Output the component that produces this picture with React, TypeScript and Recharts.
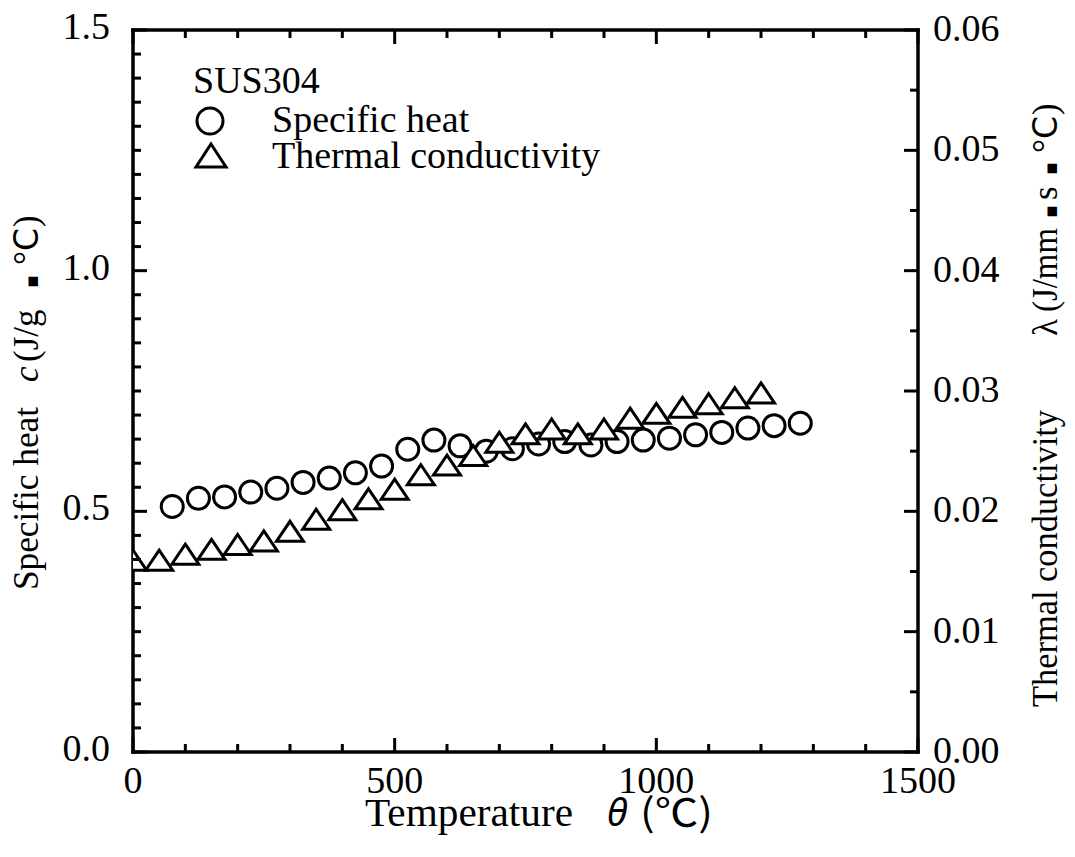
import React from 'react';
import { ScatterChart, Scatter, XAxis, YAxis, Label } from 'recharts';

// ---- data ----
const heatTemps = [75, 125, 175, 225, 275, 325, 375, 425, 475, 525, 575, 625, 675, 725, 775, 825, 875, 925, 975, 1025, 1075, 1125, 1175, 1225, 1275];
const specificHeat = [0.510, 0.527, 0.530, 0.540, 0.548, 0.560, 0.569, 0.580, 0.594, 0.629, 0.648, 0.636, 0.625, 0.630, 0.640, 0.645, 0.638, 0.645, 0.648, 0.652, 0.659, 0.664, 0.673, 0.678, 0.683];
const condTemps = [0, 50, 100, 150, 200, 250, 300, 350, 400, 450, 500, 550, 600, 650, 700, 750, 800, 850, 900, 950, 1000, 1050, 1100, 1150, 1200];
const thermalConductivity = [0.0159, 0.0159, 0.0164, 0.0168, 0.0172, 0.0175, 0.0183, 0.0193, 0.0201, 0.0210, 0.0218, 0.0230, 0.0238, 0.0246, 0.0257, 0.0264, 0.0268, 0.0264, 0.0268, 0.0277, 0.0281, 0.0286, 0.0289, 0.0294, 0.0298];

const xTicks = [0, 100, 200, 300, 400, 500, 600, 700, 800, 900, 1000, 1100, 1200, 1300, 1400, 1500];
const xMajorTicks = [0, 500, 1000, 1500];
const leftTicks = [0, 0.05, 0.1, 0.15, 0.2, 0.25, 0.3, 0.35, 0.4, 0.45, 0.5, 0.55, 0.6, 0.65, 0.7, 0.75, 0.8, 0.85, 0.9, 0.95, 1.0, 1.05, 1.1, 1.15, 1.2, 1.25, 1.3, 1.35, 1.4, 1.45, 1.5];
const leftMajorTicks = [0, 0.5, 1.0, 1.5];
const leftTickLabels = ['0.0', '0.5', '1.0', '1.5'];
const rightTicks = [0, 0.005, 0.01, 0.015, 0.02, 0.025, 0.03, 0.035, 0.04, 0.045, 0.05, 0.055, 0.06];
const rightMajorTicks = [0, 0.01, 0.02, 0.03, 0.04, 0.05, 0.06];
const rightTickLabels = ['0.00', '0.01', '0.02', '0.03', '0.04', '0.05', '0.06'];

const heatData = heatTemps.map((t, i) => ({ t, c: specificHeat[i] }));
const condData = condTemps.map((t, i) => ({ t, k: thermalConductivity[i] }));

const SERIF = '"Liberation Serif", "Times New Roman", serif';
const CJK = '"Noto Sans CJK JP", "Noto Sans", sans-serif';
const SANS = '"Noto Sans", "DejaVu Sans", sans-serif';
const DJV = '"DejaVu Sans", sans-serif';
const TICK_FS = 38;
const MAJOR = 14;
const MINOR = 8;
const TW = 3;

const isIn = (arr: number[], v: number) => arr.findIndex((a) => Math.abs(a - v) < 1e-9);

const BottomTick = (props: any) => {
  const { x, y, payload } = props;
  const idx = isIn(xMajorTicks, payload.value);
  const len = idx >= 0 ? MAJOR : MINOR;
  return (
    <g>
      <line x1={x} x2={x} y1={y} y2={y - len} stroke="#000" strokeWidth={TW} />
      {idx >= 0 && (
        <text x={x} y={y + 41} textAnchor="middle" fontFamily={SERIF} fontSize={TICK_FS} fill="#000">
          {String(xMajorTicks[idx])}
        </text>
      )}
    </g>
  );
};

const TopTick = (props: any) => {
  const { x, y, payload } = props;
  const idx = isIn(xMajorTicks, payload.value);
  const len = idx >= 0 ? MAJOR : MINOR;
  return <line x1={x} x2={x} y1={y} y2={y + len} stroke="#000" strokeWidth={TW} />;
};

const LeftTick = (props: any) => {
  const { x, y, payload } = props;
  const idx = isIn(leftMajorTicks, payload.value);
  const len = idx >= 0 ? MAJOR : MINOR;
  return (
    <g>
      <line x1={x} x2={x + len} y1={y} y2={y} stroke="#000" strokeWidth={TW} />
      {idx >= 0 && (
        <text x={x - 23} y={y + 9} textAnchor="end" fontFamily={SERIF} fontSize={TICK_FS} fill="#000">
          {leftTickLabels[idx]}
        </text>
      )}
    </g>
  );
};

const RightTick = (props: any) => {
  const { x, y, payload } = props;
  const idx = isIn(rightMajorTicks, payload.value);
  const len = idx >= 0 ? MAJOR : MINOR;
  return (
    <g>
      <line x1={x} x2={x - len} y1={y} y2={y} stroke="#000" strokeWidth={TW} />
      {idx >= 0 && (
        <text x={x + 15} y={y + 11} textAnchor="start" fontFamily={SERIF} fontSize={TICK_FS} fill="#000">
          {rightTickLabels[idx]}
        </text>
      )}
    </g>
  );
};

const CircleShape = (props: any) => {
  const { cx, cy } = props;
  if (cx == null || cy == null) return null;
  return <circle cx={cx} cy={cy} r={11} fill="#fff" stroke="#000" strokeWidth={3} />;
};

const TriangleShape = (props: any) => {
  const { cx, cy } = props;
  if (cx == null || cy == null) return null;
  const hw = 13.5;
  const h = 20;
  const pts = `${cx},${cy - h / 2 - 0.5} ${cx + hw},${cy + h / 2 - 0.5} ${cx - hw},${cy + h / 2 - 0.5}`;
  return <polygon points={pts} fill="#fff" stroke="#000" strokeWidth={3} strokeLinejoin="miter" />;
};

const XTitle = () => (
  <text y={826} fontFamily={SERIF} fontSize={40} fill="#000">
    <tspan x={365} textLength={208} lengthAdjust="spacingAndGlyphs">Temperature</tspan>
    <tspan x={607} fontFamily={SANS} fontStyle="italic" fontSize={38}>θ</tspan>
    <tspan x={640} fontFamily={CJK} fontSize={38} textLength={73} lengthAdjust="spacingAndGlyphs">(℃)</tspan>
  </text>
);

const LeftTitle = () => (
  <text y={38} transform="rotate(-90)" fontFamily={SERIF} fontSize={35} fill="#000">
    <tspan x={-590} textLength={183} lengthAdjust="spacingAndGlyphs">Specific heat</tspan>
    <tspan x={-382} fontStyle="italic">c</tspan>
    <tspan x={-362}>(J/g</tspan>
    <tspan x={-288} fontFamily={DJV} fontSize={19}>▪</tspan>
    <tspan x={-265}>°</tspan>
    <tspan x={-251} fontFamily={DJV} fontSize={33}>C</tspan>
    <tspan x={-227}>)</tspan>
  </text>
);

const RightTitle = () => (
  <text y={1057} transform="rotate(-90)" fontFamily={SERIF} fontSize={35} fill="#000">
    <tspan x={-707} textLength={297} lengthAdjust="spacingAndGlyphs">Thermal conductivity</tspan>
    <tspan x={-336}>λ</tspan>
    <tspan x={-312} textLength={84} lengthAdjust="spacingAndGlyphs">(J/mm</tspan>
    <tspan x={-218} fontFamily={DJV} fontSize={19}>▪</tspan>
    <tspan x={-200}>s</tspan>
    <tspan x={-175} fontFamily={DJV} fontSize={19}>▪</tspan>
    <tspan x={-153}>°</tspan>
    <tspan x={-139} fontFamily={DJV} fontSize={33}>C</tspan>
    <tspan x={-115}>)</tspan>
  </text>
);

const axisLineStyle = { stroke: '#000', strokeWidth: 3.5, strokeLinecap: 'square' as const };

export default function App() {
  return (
    <div style={{ position: 'absolute', left: 0, top: 0, width: 1075, height: 857, background: '#fff' }}>
      <ScatterChart width={1075} height={857} margin={{ top: 0, right: 0, bottom: 0, left: 0 }}>
        <XAxis
          xAxisId="bottom"
          dataKey="t"
          type="number"
          domain={[0, 1500]}
          ticks={xTicks}
          interval={0}
          height={105}
          orientation="bottom"
          tickSize={0}
          tickMargin={0}
          tickLine={false}
          axisLine={axisLineStyle}
          tick={<BottomTick />}
          allowDataOverflow
        >
          <Label content={() => <XTitle />} />
        </XAxis>
        <XAxis
          xAxisId="top"
          dataKey="t"
          type="number"
          domain={[0, 1500]}
          ticks={xTicks}
          interval={0}
          height={30}
          orientation="top"
          tickSize={0}
          tickMargin={0}
          tickLine={false}
          axisLine={axisLineStyle}
          tick={<TopTick />}
          allowDataOverflow
        />
        <YAxis
          yAxisId="left"
          dataKey="c"
          type="number"
          domain={[0, 1.5]}
          ticks={leftTicks}
          interval={0}
          width={133}
          orientation="left"
          tickSize={0}
          tickMargin={0}
          tickLine={false}
          axisLine={axisLineStyle}
          tick={<LeftTick />}
          allowDataOverflow
        >
          <Label content={() => <LeftTitle />} />
        </YAxis>
        <YAxis
          yAxisId="right"
          dataKey="k"
          type="number"
          domain={[0, 0.06]}
          ticks={rightTicks}
          interval={0}
          width={157}
          orientation="right"
          tickSize={0}
          tickMargin={0}
          tickLine={false}
          axisLine={axisLineStyle}
          tick={<RightTick />}
          allowDataOverflow
        >
          <Label content={() => <RightTitle />} />
        </YAxis>
        <Scatter
          name="Specific heat"
          data={heatData}
          xAxisId="bottom"
          yAxisId="left"
          dataKey="c"
          shape={<CircleShape />}
          isAnimationActive={false}
        />
        <Scatter
          name="Thermal conductivity"
          data={condData}
          xAxisId="bottom"
          yAxisId="right"
          dataKey="k"
          shape={<TriangleShape />}
          isAnimationActive={false}
        />
      </ScatterChart>
      <svg
        width={1075}
        height={857}
        style={{ position: 'absolute', left: 0, top: 0, pointerEvents: 'none' }}
      >
        <text x={193} y={93} fontFamily={SERIF} fontSize={38} fill="#000">SUS304</text>
        <circle cx={210} cy={121} r={13} fill="none" stroke="#000" strokeWidth={3} />
        <text x={272} y={132} fontFamily={SERIF} fontSize={38} fill="#000">Specific heat</text>
        <polygon points="211,144 226,167 196,167" fill="none" stroke="#000" strokeWidth={3} />
        <text x={272} y={168} fontFamily={SERIF} fontSize={38} fill="#000">Thermal conductivity</text>
      </svg>
    </div>
  );
}
